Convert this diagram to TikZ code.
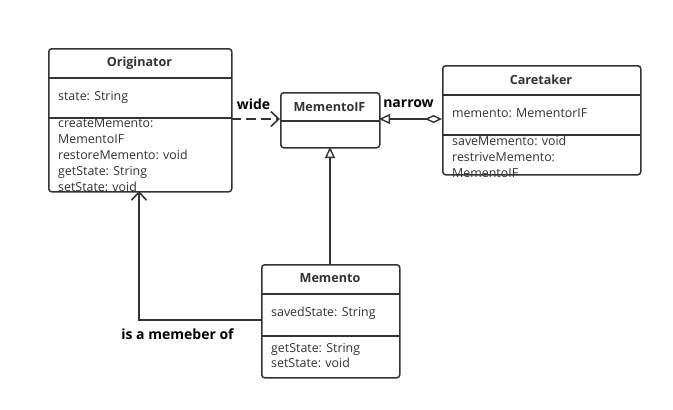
\documentclass[tikz,border=0pt]{standalone}
\usepackage{fontspec}
\setmainfont{Open Sans}
\usetikzlibrary{arrows.meta}
\definecolor{ln}{HTML}{333333}
\tikzset{
  umlbox/.style={draw=ln, line width=1.5pt, rounded corners=3pt, fill=white, anchor=north west, inner sep=0pt},
  sepline/.style={draw=ln, line width=1.5pt},
  title/.style={font=\fontsize{12.6}{14}\selectfont\bfseries, text=ln, anchor=center, inner sep=0pt},
  member/.style={font=\fontsize{12.4}{14}\selectfont, text=ln, anchor=base west, inner sep=0pt},
  lbl/.style={font=\fontsize{14}{16}\selectfont\bfseries, text=black, inner sep=0pt},
  conn/.style={draw=ln, line width=1.5pt},
  openv/.style={-{Straight Barb[length=8pt,width=15pt,line width=1.6pt]}},
  opentri/.style={-{Triangle[open,length=11pt,width=10pt,line width=1.4pt,fill=white]}},
}
\begin{document}
\begin{tikzpicture}[x=1pt,y=-1pt]
\useasboundingbox (0,0) rectangle (673,410);
\fill[white] (0,0) rectangle (673,410);

% Originator
\node[umlbox, minimum width=183pt, minimum height=143pt] (orig) at (48,48) {};
\draw[sepline] (48,78) -- (231,78);
\draw[sepline] (48,118) -- (231,118);
\node[title] (origt) at (139.5,63) {Originator};
\node[member] (o1) at (58,100) {state: String};
\node[member] (o2) at (58,127) {createMemento:};
\node[member] (o3) at (58,143) {MementoIF};
\node[member] (o4) at (58,159) {restoreMemento: void};
\node[member] (o5) at (58,175) {getState: String};
\node[member] (o6) at (58,191) {setState: void};

% MementoIF
\node[umlbox, minimum width=99pt, minimum height=55pt] (mif) at (280,92) {};
\draw[sepline] (280,121) -- (379,121);
\node[title] (mift) at (329.5,107) {MementoIF};

% Caretaker
\node[umlbox, minimum width=198pt, minimum height=109pt] (care) at (442,65) {};
\draw[sepline] (442,95) -- (640,95);
\draw[sepline] (442,135) -- (640,135);
\node[title] (caret) at (541,80) {Caretaker};
\node[member] (c1) at (452,117) {memento: MementorIF};
\node[member] (c2) at (452,145) {saveMemento: void};
\node[member] (c3) at (452,161) {restriveMemento:};
\node[member] (c4) at (452,177) {MementoIF};

% Memento
\node[umlbox, minimum width=138pt, minimum height=113pt] (mem) at (261,264) {};
\draw[sepline] (261,294) -- (399,294);
\draw[sepline] (261,336) -- (399,336);
\node[title] (memt) at (330,278) {Memento};
\node[member] (m1) at (271,316) {savedState: String};
\node[member] (m2) at (271,352) {getState: String};
\node[member] (m3) at (271,367) {setState: void};

% connectors
\coordinate (o_r) at (231,119);
\coordinate (mif_l) at (280,119);
\draw[conn, openv, dash pattern=on 10pt off 5pt] (o_r) -- (mif_l);
\node[lbl] (wide) at (253.5,104) {wide};

\coordinate (care_l) at (442,119);
\coordinate (mif_r) at (379,119);
\draw[conn, {Diamond[open,length=17pt,width=8pt,line width=1.4pt,fill=white]}-{Triangle[open,length=11pt,width=10pt,line width=1.4pt,fill=white]}] (care_l) -- (mif_r);
\node[lbl] (narrow) at (408.5,104) {narrow};

\coordinate (mem_t) at (330,264);
\coordinate (mif_b) at (330,147);
\draw[conn, opentri] (mem_t) -- (mif_b);

\coordinate (mem_l) at (261,320);
\coordinate (orig_b) at (139,191);
\draw[conn, openv] (mem_l) -- (139,320) -- (orig_b);
\node[lbl] (member) at (177.5,334) {is a memeber of};
\end{tikzpicture}
\end{document}
